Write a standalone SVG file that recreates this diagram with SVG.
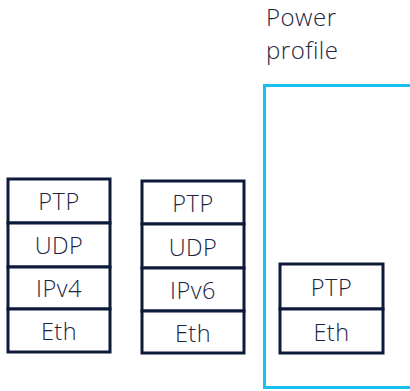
<svg xmlns="http://www.w3.org/2000/svg" width="410" height="391" viewBox="0 0 410 391">
  <style>
    .cell { fill: #ffffff; stroke: #0e1a3a; stroke-width: 3; }
    .lbl { font-family: "Open Sans", "Noto Sans", sans-serif; font-weight: 300; font-size: 23.5px; letter-spacing: 0.5px; fill: #1c2540; text-anchor: middle; }
    .title { font-family: "Open Sans", "Noto Sans", sans-serif; font-weight: 300; font-size: 24px; letter-spacing: 0.5px; fill: #1c2540; }
    .profile { fill: none; stroke: #17c0f0; stroke-width: 3; }
  </style>
  <rect width="410" height="391" fill="#ffffff"/>

  <!-- Power profile frame and title -->
  <g id="power-profile">
    <rect class="profile" x="264.5" y="85.5" width="160" height="302"/>
    <text class="title" x="266" y="26">Power</text>
    <text class="title" x="266" y="59">profile</text>
  </g>

  <!-- IPv4 / UDP stack -->
  <g id="stack-ipv4">
    <rect class="cell" x="8" y="179" width="102" height="44"/>
    <rect class="cell" x="8" y="223" width="102" height="44"/>
    <rect class="cell" x="8" y="267" width="102" height="42"/>
    <rect class="cell" x="8" y="309" width="102" height="43"/>
    <text class="lbl" x="59" y="210">PTP</text>
    <text class="lbl" x="59" y="254">UDP</text>
    <text class="lbl" x="59" y="297">IPv4</text>
    <text class="lbl" x="59" y="340">Eth</text>
  </g>

  <!-- IPv6 / UDP stack -->
  <g id="stack-ipv6">
    <rect class="cell" x="142" y="181" width="102" height="43"/>
    <rect class="cell" x="142" y="224" width="102" height="44"/>
    <rect class="cell" x="142" y="268" width="102" height="43"/>
    <rect class="cell" x="142" y="311" width="102" height="42"/>
    <text class="lbl" x="193" y="212">PTP</text>
    <text class="lbl" x="193" y="256">UDP</text>
    <text class="lbl" x="193" y="299">IPv6</text>
    <text class="lbl" x="193" y="342">Eth</text>
  </g>

  <!-- Layer-2 stack inside the power profile -->
  <g id="stack-l2">
    <rect class="cell" x="280" y="264" width="103" height="45"/>
    <rect class="cell" x="280" y="309" width="103" height="44"/>
    <text class="lbl" x="331.5" y="296">PTP</text>
    <text class="lbl" x="331.5" y="341">Eth</text>
  </g>

  <g id="connectors"/>
</svg>
